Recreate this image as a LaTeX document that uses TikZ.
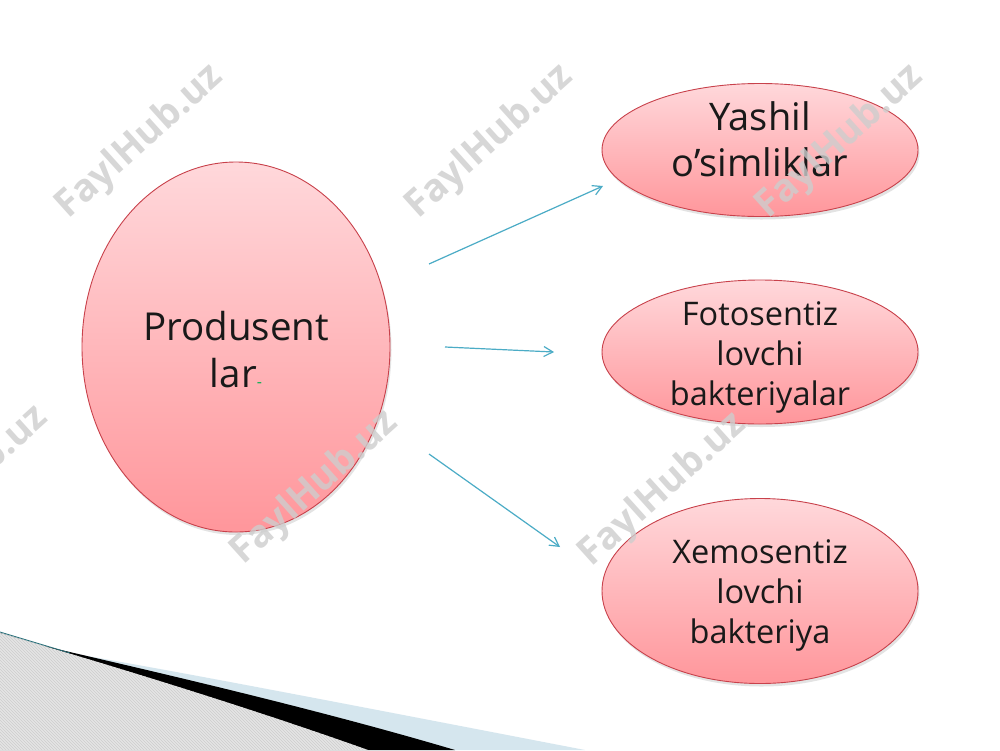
\documentclass[tikz,border=0pt]{standalone}
\usepackage{fontspec}
\setmainfont{Open Sans}
\usetikzlibrary{shapes.geometric,arrows.meta,shadows,patterns}
\definecolor{pinkT}{RGB}{255,216,219}
\definecolor{pinkB}{RGB}{255,150,155}
\definecolor{rim}{RGB}{200,65,75}
\definecolor{arr}{RGB}{75,172,198}
\definecolor{wmc}{RGB}{205,205,205}
\definecolor{lblue}{RGB}{213,230,238}
\definecolor{hatchbg}{RGB}{228,228,228}
\definecolor{hatchln}{RGB}{206,206,206}
\definecolor{edgeteal}{RGB}{40,110,120}
\definecolor{txt}{RGB}{25,25,25}
\definecolor{dashgreen}{RGB}{0,176,80}
\tikzset{
  blob/.style={ellipse, draw=rim, line width=0.9pt, top color=pinkT, bottom color=pinkB,
    inner sep=0pt, drop shadow={opacity=0.22, shadow xshift=1.5pt, shadow yshift=-3pt}},
  bigtxt/.style={font=\fontsize{38.5}{47}\selectfont, anchor=base, text=txt, inner sep=0pt},
  midtxt/.style={font=\fontsize{38}{47}\selectfont, anchor=base, text=txt, inner sep=0pt},
  smalltxt/.style={font=\fontsize{32.5}{40}\selectfont, anchor=base, text=txt, inner sep=0pt},
  link/.style={draw=arr, line width=1.2pt, -{Straight Barb[length=9pt,width=10pt]}},
  wmark/.style={font=\fontsize{38}{38}\selectfont\bfseries, text=wmc, text opacity=0.8,
    rotate=42, inner sep=0pt}
}
\begin{document}
\begin{tikzpicture}[x=1pt,y=-1pt]
\useasboundingbox (0,0) rectangle (1000,750);
\clip (0,0) rectangle (1000,750);
\fill[white] (0,0) rectangle (1000,750);

% bottom-left decoration
\fill[lblue] (70,653) .. controls (180,672) and (300,695) .. (585,750) -- (0,750) -- (0,633) -- cycle;
\fill[black] (40,645) .. controls (120,664) and (300,704) .. (455,750) -- (0,750) -- (0,633) -- cycle;
\path[fill=hatchbg, postaction={pattern=north west lines, pattern color=hatchln}]
  (0,633) .. controls (120,668) and (250,708) .. (368,750) -- (0,750) -- cycle;
\draw[edgeteal, line width=0.8pt] (0,632) -- (70,653);

% ellipses
\node[blob, minimum width=308pt, minimum height=370pt] (prod) at (236,347) {};
\node[blob, minimum width=316pt, minimum height=133pt] (yash) at (760,150) {};
\node[blob, minimum width=316pt, minimum height=144pt] (foto) at (760,352) {};
\node[blob, minimum width=316pt, minimum height=185pt] (xemo) at (760,591) {};

% texts
\node[bigtxt] (prodA) at (236,340) {Produsent};
\node[bigtxt] (prodB) at (236,387) {lar{\color{dashgreen}\fontsize{16}{16}\selectfont -}};
\node[midtxt] (yashA) at (760,130) {Yashil};
\node[midtxt] (yashB) at (760,176) {o’simliklar};
\node[smalltxt] (fotoA) at (760,325) {Fotosentiz};
\node[smalltxt] (fotoB) at (760,365) {lovchi};
\node[smalltxt] (fotoC) at (760,405) {bakteriyalar};
\node[smalltxt] (xemoA) at (760,563) {Xemosentiz};
\node[smalltxt] (xemoB) at (760,603) {lovchi};
\node[smalltxt] (xemoC) at (760,643) {bakteriya};

% connectors
\coordinate (s1) at (429,264); \coordinate (e1) at (603,186);
\coordinate (s2) at (445,347); \coordinate (e2) at (554,352);
\coordinate (s3) at (429,454); \coordinate (e3) at (560,547);
\draw[link] (s1) -- (e1);
\draw[link] (s2) -- (e2);
\draw[link] (s3) -- (e3);

% watermarks
\node[wmark] (w1) at (140,142) {FaylHub.uz};
\node[wmark] (w2) at (490,142) {FaylHub.uz};
\node[wmark] (w3) at (840,142) {FaylHub.uz};
\node[wmark] (w4) at (-35,483) {FaylHub.uz};
\node[wmark] (w5) at (315,488) {FaylHub.uz};
\node[wmark] (w6) at (663,490) {FaylHub.uz};
\end{tikzpicture}
\end{document}
